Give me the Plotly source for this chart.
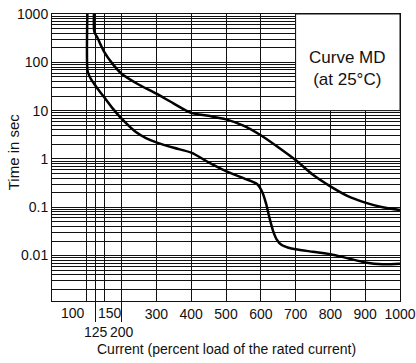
import plotly.graph_objects as go

# tripping curve MD
upper_x = [121, 121, 124, 130, 140, 150, 173, 200, 245, 300, 350, 400, 450,
           500, 550, 600, 650, 700, 750, 800, 850, 900, 950, 1000]
upper_y = [1500, 460, 390, 330, 230, 165, 95, 58, 36, 22.4, 14, 9.0, 7.8,
           6.6, 4.9, 3.1, 1.75, 0.95, 0.47, 0.27, 0.17, 0.125, 0.1, 0.088]

lower_x = [102, 102, 106, 112, 121, 135, 150, 175, 200, 241, 270, 300, 350,
           400, 450, 500, 550, 590, 605, 615, 625, 635, 645, 660, 680, 700, 750,
           800, 850, 900, 950, 1000]
lower_y = [1500, 68, 55, 45, 36, 26, 19, 11, 6.8, 3.6, 2.7, 2.2, 1.7,
           1.35, 0.85, 0.56, 0.4, 0.3, 0.2, 0.12, 0.06, 0.033, 0.022, 0.0165, 0.0145, 0.0135, 0.012,
           0.0107, 0.0088, 0.0072, 0.0066, 0.0068]

x_ticks = [100, 150, 300, 400, 500, 600, 700, 800, 900, 1000]
x_ticktext = ['', '', '300', '400', '500', '600', '700', '800', '900', '1000']
x_minor = [125, 200]
y_ticks = [0.01, 0.1, 1, 10, 100, 1000]
y_ticktext = ['0.01', '0.1', '1', '10', '100', '1000']
y_minor = [m * 10 ** e for e in range(-3, 3) for m in range(2, 10)]

font = 'Liberation Sans, Arial, sans-serif'
ink = '#111'

fig = go.Figure()
for xs, ys in [(upper_x, upper_y), (lower_x, lower_y)]:
    fig.add_trace(go.Scatter(x=xs, y=ys, mode='lines',
                             line=dict(color='black', width=2.5, shape='spline', smoothing=0.8),
                             showlegend=False, hoverinfo='skip'))

fig.update_layout(
    width=416, height=363,
    margin=dict(l=52, r=16, t=14, b=62),
    paper_bgcolor='white', plot_bgcolor='white',
    font=dict(family=font, size=14, color=ink),
)

fig.update_xaxes(
    range=[0, 1000], automargin=False,
    tickmode='array', tickvals=x_ticks, ticktext=x_ticktext, ticks='',
    showgrid=True, gridcolor=ink, gridwidth=1,
    minor=dict(tickmode='array', tickvals=x_minor, ticks='outside', ticklen=20,
               tickcolor=ink, showgrid=True, gridcolor=ink, gridwidth=1),
    showline=True, linecolor=ink, linewidth=1, mirror=True, zeroline=False,
)
fig.update_yaxes(
    type='log', range=[-2.94, 3], automargin=False,
    tickmode='array', tickvals=y_ticks, ticktext=y_ticktext, ticks='',
    showgrid=True, gridcolor=ink, gridwidth=1,
    minor=dict(tickmode='array', tickvals=y_minor, ticks='',
               showgrid=True, gridcolor=ink, gridwidth=1),
    showline=True, linecolor=ink, linewidth=1, mirror=True, zeroline=False,
)

# axis titles
fig.add_annotation(x=0.5, y=0, xref='paper', yref='paper', yanchor='top', yshift=-38,
                   text='Current (percent load of the rated current)', showarrow=False,
                   font=dict(size=14))
fig.add_annotation(x=0, y=0.52, xref='paper', yref='paper', xanchor='right', xshift=-28,
                   text='Time in sec', textangle=-90, showarrow=False, font=dict(size=15))

# white box with the curve name
fig.add_shape(type='rect', xref='x', yref='y', x0=700, x1=1000, y0=10, y1=1000,
              fillcolor='white', line=dict(color=ink, width=1), layer='above')
fig.add_annotation(x=850, y=1.87, xref='x', yref='y', text='Curve MD<br>(at 25°C)',
                   showarrow=False, font=dict(size=17, color=ink))

# labels squeezed around the 125 / 200 lines
fig.add_annotation(x=100, y=0, xref='x', yref='paper', text='100', showarrow=False,
                   xanchor='right', yanchor='top', xshift=0, yshift=-2)
fig.add_annotation(x=125, y=0, xref='x', yref='paper', text='150', showarrow=False,
                   xanchor='left', yanchor='top', xshift=0, yshift=-2)
fig.add_annotation(x=125, y=0, xref='x', yref='paper', text='125', showarrow=False,
                   xanchor='center', yanchor='top', yshift=-21)
fig.add_annotation(x=200, y=0, xref='x', yref='paper', text='200', showarrow=False,
                   xanchor='center', yanchor='top', yshift=-21)

fig.write_html('out.html', config={'displayModeBar': False},
               post_script="document.body.style.margin = '0px';")
